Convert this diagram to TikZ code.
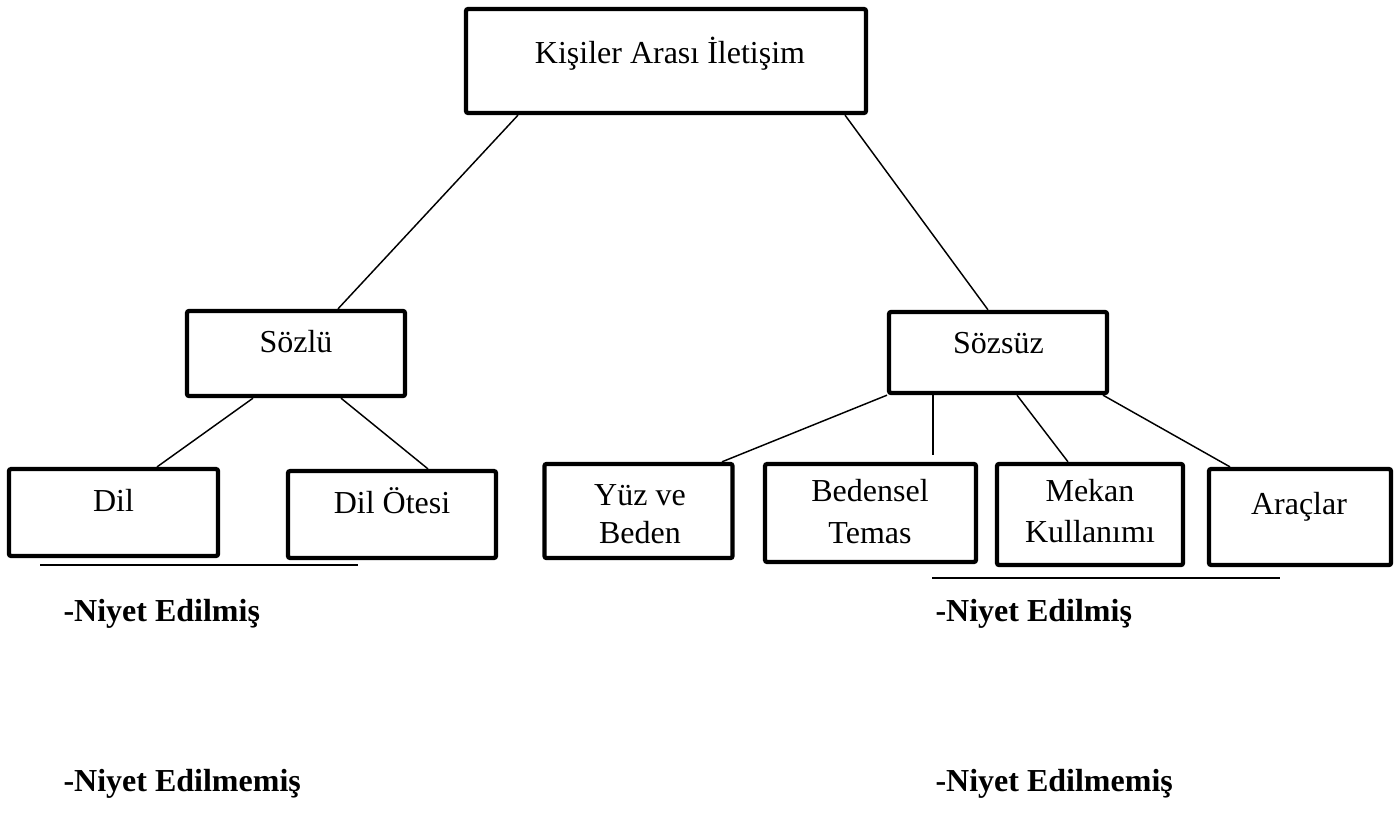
\documentclass[tikz,border=0pt]{standalone}
\usepackage{fontspec}
\setmainfont{Liberation Serif}
\usetikzlibrary{calc}
\tikzset{
    box/.style={draw,line width=1.6pt,rounded corners=0.8pt,inner sep=0pt},
    lbl/.style={font=\fontsize{12}{14.5}\selectfont,inner sep=0pt,align=center},
    link/.style={line width=0.55pt},
    tag/.style={font=\fontsize{12}{14.5}\selectfont\bfseries,inner sep=0pt,anchor=base west}
}
\begin{document}
\begin{tikzpicture}[x=0.375pt,y=-0.375pt]
            \useasboundingbox (0,0) rectangle (1400,830);

            \node[box,minimum width=150pt,minimum height=39pt] (top) at (666,61) {};
            \node[box,minimum width=81.75pt,minimum height=31.9pt] (sozlu) at (296,353.5) {};
            \node[box,minimum width=81.75pt,minimum height=30.4pt] (sozsuz) at (998,352.5) {};
            \node[box,minimum width=78.4pt,minimum height=32.6pt] (dil) at (113.5,512.5) {};
            \node[box,minimum width=78pt,minimum height=32.6pt] (dilotesi) at (392,514.5) {};
            \node[box,minimum width=70.5pt,minimum height=35.3pt] (yuz) at (638.5,511) {};
            \node[box,minimum width=79.1pt,minimum height=36.75pt] (bedensel) at (870.5,513) {};
            \node[box,minimum width=69.75pt,minimum height=37.9pt] (mekan) at (1090,514.5) {};
            \node[box,minimum width=68.25pt,minimum height=36pt] (araclar) at (1300,517) {};

            \node[lbl,anchor=base] (topt) at (670,63) {Kişiler Arası İletişim};
            \node[lbl,anchor=base] (sozlut) at (296,352) {Sözlü};
            \node[lbl,anchor=base] (sozsuzt) at (998.5,353) {Sözsüz};
            \node[lbl,anchor=base] (dilt) at (113.5,511) {Dil};
            \node[lbl,anchor=base] (dilotesit) at (392,513) {Dil Ötesi};
            \node[lbl,anchor=north] (yuzt) at (640,484) {Yüz ve\\[-0.4pt]Beden};
            \node[lbl,anchor=north] (bedenselt) at (870,479) {Bedensel\\[1pt]Temas};
            \node[lbl,anchor=north] (mekant) at (1090,479) {Mekan\\[0.6pt]Kullanımı};
            \node[lbl,anchor=base] (araclart) at (1299,514) {Araçlar};

            \draw[link] ($(top.south)+(-148,0)$) -- ($(sozlu.north)+(42,0)$);
            \draw[link] ($(top.south)+(179,0)$) -- ($(sozsuz.north)+(-10,0)$);

            \draw[link] ($(sozlu.south)+(-43,0)$) -- ($(dil.north)+(43.5,0)$);
            \draw[link] ($(sozlu.south)+(45,0)$) -- ($(dilotesi.north)+(36,0)$);

            \coordinate (bedenselend) at ($(bedensel.north)+(62.5,-7)$);
            \draw[link] ($(sozsuz.south)+(-111,0)$) -- ($(yuz.north)+(83.5,0)$);
            \draw[link] ($(sozsuz.south)+(-65,0)$) -- (bedenselend);
            \draw[link] ($(sozsuz.south)+(19,0)$) -- ($(mekan.north)+(-22,0)$);
            \draw[link] ($(sozsuz.south)+(105,0)$) -- ($(araclar.north)+(-70,0)$);

            \draw[line width=0.9pt] (40,565) -- (358,565);
            \draw[line width=0.9pt] (932,578) -- (1280,578);

            \node[tag] (niyet1) at (63,621) {-Niyet Edilmiş};
            \node[tag] (niyetme1) at (63,791) {-Niyet Edilmemiş};
            \node[tag] (niyet2) at (935,621) {-Niyet Edilmiş};
            \node[tag] (niyetme2) at (935,791) {-Niyet Edilmemiş};
\end{tikzpicture}
\end{document}
